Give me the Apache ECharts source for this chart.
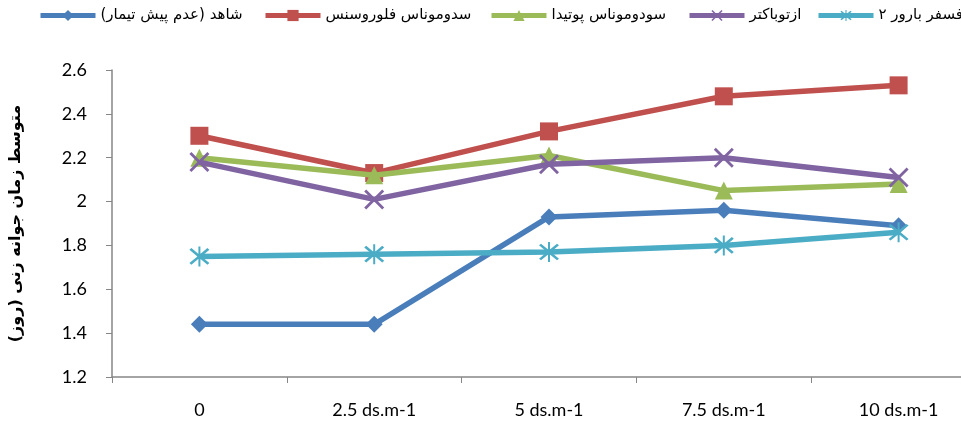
<!DOCTYPE html>
<html><head><meta charset="utf-8">
<script src="https://cdn.jsdelivr.net/npm/echarts@6/dist/echarts.min.js"></script>
<style>html,body{margin:0;padding:0;background:#fff;overflow:hidden;width:961px;height:426px}#c{width:986px;height:426px}</style>
</head><body><div id="c"></div>
<script>
const categories = ['0', '2.5 ds.m-1', '5 ds.m-1', '7.5 ds.m-1', '10 ds.m-1'];
const seriesNames = ['شاهد (عدم پیش تیمار)', 'سدوموناس فلوروسنس', 'سودوموناس پوتیدا', 'ازتوباکتر', 'فسفر بارور ۲'];
const control = [1.44, 1.44, 1.93, 1.96, 1.89];
const fluorescens = [2.30, 2.13, 2.32, 2.48, 2.53];
const putida = [2.20, 2.12, 2.21, 2.05, 2.08];
const azotobacter = [2.18, 2.01, 2.17, 2.20, 2.11];
const barvar2 = [1.75, 1.76, 1.77, 1.80, 1.86];
const yTicks = [1.2, 1.4, 1.6, 1.8, 2, 2.2, 2.4, 2.6];
const yTitle = 'متوسط زمان جوانه زنی (روز)';

const colors = ['#4a7ebb', '#c0504d', '#9bbb59', '#8064a2', '#4bacc6'];
const xPath = 'path://M0,1L1,0L5,4L9,0L10,1L6,5L10,9L9,10L5,6L1,10L0,9L4,5Z';
const starPath = 'path://M0,1L1,0L5,4L9,0L10,1L6,5L10,9L9,10L5,6L1,10L0,9L4,5Z M4.5,-1L5.5,-1L5.5,11L4.5,11Z';
const symbols = ['diamond', 'rect', 'triangle', xPath, starPath];
const sizes = [17, 18, 18, 20, 20];
const dataAll = [control, fluorescens, putida, azotobacter, barvar2];
const legendLeft = [33, 258, 484, 682, 811];

const chart = echarts.init(document.getElementById('c'));
chart.setOption({
  animation: false,
  color: colors,
  legend: seriesNames.map((n, i) => ({
    top: 3, left: legendLeft[i],
    itemWidth: 55, itemHeight: 14,
    lineStyle: { width: 5 },
    textStyle: { fontFamily: 'DejaVu Sans', fontSize: 15, color: '#000' },
    data: [n]
  })),
  grid: { left: 111, right: 0, top: 70, bottom: 49 },
  xAxis: {
    type: 'category', data: categories, boundaryGap: true,
    axisLine: { lineStyle: { color: '#868686', width: 1.5 } },
    axisTick: { show: true, length: 6, lineStyle: { color: '#868686' } },
    axisLabel: { margin: 24, fontFamily: 'Lato', fontSize: 18, color: '#000' }
  },
  yAxis: {
    type: 'value', min: 1.2, max: 2.6, interval: 0.2,
    name: yTitle, nameLocation: 'middle', nameGap: 88, nameRotate: 90,
    nameTextStyle: { fontFamily: 'DejaVu Sans', fontSize: 16, color: '#000', fontWeight: 'bold' },
    axisLine: { show: true, lineStyle: { color: '#868686', width: 1.5 } },
    axisTick: { show: true, length: 6, lineStyle: { color: '#868686' } },
    splitLine: { show: false },
    axisLabel: {
      margin: 25, fontFamily: 'Lato', fontSize: 18, color: '#000',
      formatter: v => { const t = yTicks.find(x => Math.abs(x - v) < 1e-6); return t === undefined ? '' : String(t); }
    }
  },
  series: dataAll.map((d, i) => ({
    name: seriesNames[i], type: 'line', data: d,
    symbol: symbols[i], symbolSize: sizes[i], showAllSymbol: true,
    lineStyle: { width: 5.5, color: colors[i] },
    itemStyle: { color: colors[i] },
    z: 2 + i
  }))
});
</script></body></html>
